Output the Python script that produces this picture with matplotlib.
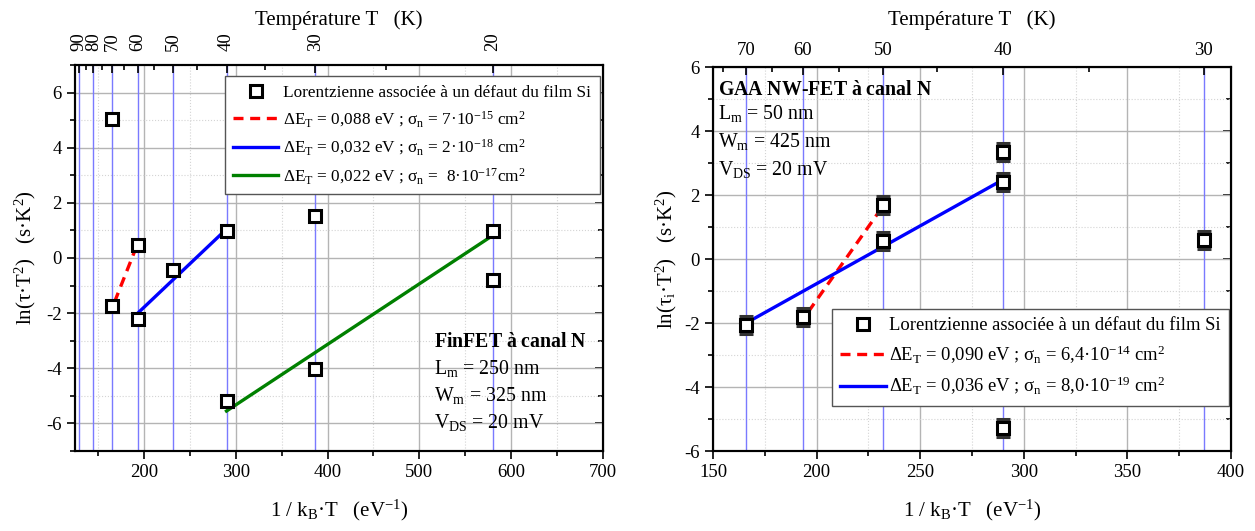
import numpy as np
import matplotlib
matplotlib.use('Agg')
import matplotlib.pyplot as plt
from matplotlib.ticker import MultipleLocator, FixedLocator, NullFormatter, FixedFormatter
from matplotlib.lines import Line2D

plt.rcParams['font.family'] = ['Liberation Serif', 'DejaVu Serif']
plt.rcParams['mathtext.fontset'] = 'custom'
plt.rcParams['mathtext.rm'] = 'Liberation Serif'
plt.rcParams['mathtext.it'] = 'Liberation Serif:italic'
plt.rcParams['mathtext.bf'] = 'Liberation Serif:bold'
plt.rcParams['axes.unicode_minus'] = False

KB_INV = 11604.5  # 1/kB in K/eV

# ---------------- Left panel: FinFET ----------------
fin_T = [70, 70, 60, 60, 50, 40, 40, 30, 30, 20, 20]
fin_ln = [5.05, -1.75, 0.48, -2.2, -0.42, 0.98, -5.18, 1.52, -4.02, 0.98, -0.8]
fin_red_x = [168, 193]
fin_red_y = [-1.6, 0.5]
fin_blue_x = [193.4, 290]
fin_blue_y = [-2.0, 1.05]
fin_green_x = [290, 580]
fin_green_y = [-5.55, 0.82]
fin_T_major = [90, 80, 70, 60, 50, 40, 30, 20]
fin_T_minor = [85, 75, 65, 55, 45, 35, 25]
fin_labels = ["Lorentzienne associée à un défaut du film Si",
              r"ΔE$_\mathrm{T}$ = 0,088 eV ; σ$_\mathrm{n}$ = 7·10$^{-15}$ cm$^2$",
              r"ΔE$_\mathrm{T}$ = 0,032 eV ; σ$_\mathrm{n}$ = 2·10$^{-18}$ cm$^2$",
              r"ΔE$_\mathrm{T}$ = 0,022 eV ; σ$_\mathrm{n}$ =  8·10$^{-17}$cm$^2$"]
fin_text = [r"$\mathbf{FinFET\ à\ canal\ N}$", r"L$_\mathrm{m}$ = 250 nm",
            r"W$_\mathrm{m}$ = 325 nm", r"V$_\mathrm{DS}$ = 20 mV"]

# ---------------- Right panel: GAA NW-FET ----------------
gaa_T = [70, 60, 50, 50, 40, 40, 40, 30]
gaa_ln = [-2.05, -1.8, 1.68, 0.55, 3.35, 2.42, -5.28, 0.6]
gaa_err = [0.28, 0.28, 0.28, 0.28, 0.28, 0.28, 0.28, 0.28]
gaa_red_x = [196, 232]
gaa_red_y = [-1.65, 1.65]
gaa_blue_x = [166, 290]
gaa_blue_y = [-2.0, 2.48]
gaa_T_major = [70, 60, 50, 40, 30]
gaa_T_minor = [75, 65, 55, 45, 35]
gaa_labels = ["Lorentzienne associée à un défaut du film Si",
              r"ΔE$_\mathrm{T}$ = 0,090 eV ; σ$_\mathrm{n}$ = 6,4·10$^{-14}$ cm$^2$",
              r"ΔE$_\mathrm{T}$ = 0,036 eV ; σ$_\mathrm{n}$ = 8,0·10$^{-19}$ cm$^2$"]
gaa_text = [r"$\mathbf{GAA\ NW\text{-}FET\ à\ canal\ N}$", r"L$_\mathrm{m}$ = 50 nm",
            r"W$_\mathrm{m}$ = 425 nm", r"V$_\mathrm{DS}$ = 20 mV"]

TICK_FS = 13.5
LABEL_FS = 15
LEG_FS = 12.4
LEG_FS_R = 13.4
ANN_FS = 14.3
VBLUE = '#7a7aff'

fig = plt.figure(figsize=(12.55, 5.31), dpi=100)
axL = fig.add_axes([75/1255, 80/531, 528/1255, 386/531])
axR = fig.add_axes([713/1255, 80/531, 518/1255, 384/531])


def setup(ax, xlim, ylim, xmaj, xmin_, T_major, T_minor, rot_top, top_tpad, top_pad):
    ax.set_xlim(*xlim)
    ax.set_ylim(*ylim)
    ax.xaxis.set_major_locator(MultipleLocator(xmaj))
    ax.xaxis.set_minor_locator(MultipleLocator(xmin_))
    ax.yaxis.set_major_locator(MultipleLocator(2))
    ax.yaxis.set_minor_locator(MultipleLocator(1))
    ax.grid(True, which='major', color='#b4b4b4', lw=1.0, zorder=0)
    ax.grid(True, which='minor', color='#d4d4d4', lw=0.8, ls=':', zorder=0)
    ax.set_axisbelow(True)
    ax.tick_params(which='both', direction='out', top=False, right=False,
                   labelsize=TICK_FS, width=1.2)
    ax.tick_params(which='major', length=6)
    ax.tick_params(which='minor', length=3.5)
    for s in ax.spines.values():
        s.set_linewidth(1.5)
    # right inward ticks
    sec = ax.secondary_yaxis('right')
    sec.yaxis.set_major_locator(MultipleLocator(2))
    sec.yaxis.set_minor_locator(MultipleLocator(1))
    sec.tick_params(which='both', direction='in', labelright=False, width=1.2)
    sec.tick_params(which='major', length=6)
    sec.tick_params(which='minor', length=3.5)
    # top temperature axis
    top = ax.twiny()
    top.set_xlim(*xlim)
    top.xaxis.set_major_locator(FixedLocator([KB_INV / t for t in T_major]))
    top.xaxis.set_major_formatter(FixedFormatter([str(t) for t in T_major]))
    top.xaxis.set_minor_locator(FixedLocator([KB_INV / t for t in T_minor]))
    top.xaxis.set_minor_formatter(NullFormatter())
    top.tick_params(which='both', direction='in', labelsize=TICK_FS, width=1.2,
                    labelrotation=rot_top, pad=top_tpad)
    top.tick_params(which='major', length=6)
    top.tick_params(which='minor', length=3.5)
    top.set_xlabel("Température T   (K)", fontsize=LABEL_FS, labelpad=top_pad)
    for s in top.spines.values():
        s.set_linewidth(1.5)
    for t in T_major:
        ax.axvline(KB_INV / t, color=VBLUE, lw=1.0, zorder=1)
    ax.set_xlabel(r"1 / k$_\mathrm{B}$·T   (eV$^{-1}$)", fontsize=LABEL_FS, labelpad=12)
    return top


# ---- Left
setup(axL, (125, 700), (-7, 7), 100, 50, fin_T_major, fin_T_minor, 90, 10, 5)
xL = [KB_INV / t for t in fin_T]
axL.plot(fin_red_x, fin_red_y, color='#ff0000', lw=2.4, ls=(0, (3, 2)), zorder=3)
axL.plot(fin_blue_x, fin_blue_y, color='#0000ff', lw=2.4, zorder=3)
axL.plot(fin_green_x, fin_green_y, color='#008000', lw=2.4, zorder=3)
axL.plot(xL, fin_ln, ls='none', marker='s', ms=8, mfc='white', mec='black', mew=2.2, zorder=4)
axL.set_ylabel(r"ln(τ·T$^2$)   (s·K$^2$)", fontsize=LABEL_FS, labelpad=6)

hL = [Line2D([], [], ls='none', marker='s', ms=8, mfc='white', mec='black', mew=2.2),
      Line2D([], [], color='#ff0000', lw=2.4, ls=(0, (3, 2))),
      Line2D([], [], color='#0000ff', lw=2.4),
      Line2D([], [], color='#008000', lw=2.4)]
legL = axL.legend(hL, fin_labels, loc='upper right', bbox_to_anchor=(0.994, 0.971),
                  borderaxespad=0, fontsize=LEG_FS, frameon=True, fancybox=False,
                  framealpha=1, edgecolor='#555555', borderpad=0.5, labelspacing=0.5,
                  handlelength=2.6, handletextpad=0.3)
legL.get_frame().set_linewidth(1.0)
legL.set_zorder(10)

ann_y_L = [0.281, 0.215, 0.145, 0.073]
for txt, yy in zip(fin_text, ann_y_L):
    axL.text(0.680, yy, txt, transform=axL.transAxes, fontsize=ANN_FS,
             va='center', ha='left', zorder=5)

# ---- Right
setup(axR, (150, 400), (-6, 6), 50, 25, gaa_T_major, gaa_T_minor, 0, 6, 12)
xR = [KB_INV / t for t in gaa_T]
axR.plot(gaa_red_x, gaa_red_y, color='#ff0000', lw=2.4, ls=(0, (3, 2)), zorder=3)
axR.plot(gaa_blue_x, gaa_blue_y, color='#0000ff', lw=2.4, zorder=3)
axR.errorbar(xR, gaa_ln, yerr=gaa_err, ls='none', marker='s', ms=8, mfc='white',
             mec='black', mew=2.2, ecolor='#333333', elinewidth=1.0, capsize=5,
             capthick=1.0, zorder=4)
axR.set_ylabel(r"ln(τ$_\mathrm{i}$·T$^2$)   (s·K$^2$)", fontsize=LABEL_FS, labelpad=4)

hR = [Line2D([], [], ls='none', marker='s', ms=8, mfc='white', mec='black', mew=2.2),
      Line2D([], [], color='#ff0000', lw=2.4, ls=(0, (3, 2))),
      Line2D([], [], color='#0000ff', lw=2.4)]
legR = axR.legend(hR, gaa_labels, loc='upper right', bbox_to_anchor=(0.997, 0.370),
                  borderaxespad=0, fontsize=LEG_FS_R, frameon=True, fancybox=False,
                  framealpha=1, edgecolor='#555555', borderpad=0.45, labelspacing=0.5,
                  handlelength=2.45, handletextpad=0.2)
legR.get_frame().set_linewidth(1.0)
legR.set_zorder(10)

ann_y_R = [0.940, 0.880, 0.805, 0.732]
for txt, yy in zip(gaa_text, ann_y_R):
    axR.text(0.01, yy, txt, transform=axR.transAxes, fontsize=ANN_FS,
             va='center', ha='left', zorder=5)

fig.savefig('out.png', dpi=100)
